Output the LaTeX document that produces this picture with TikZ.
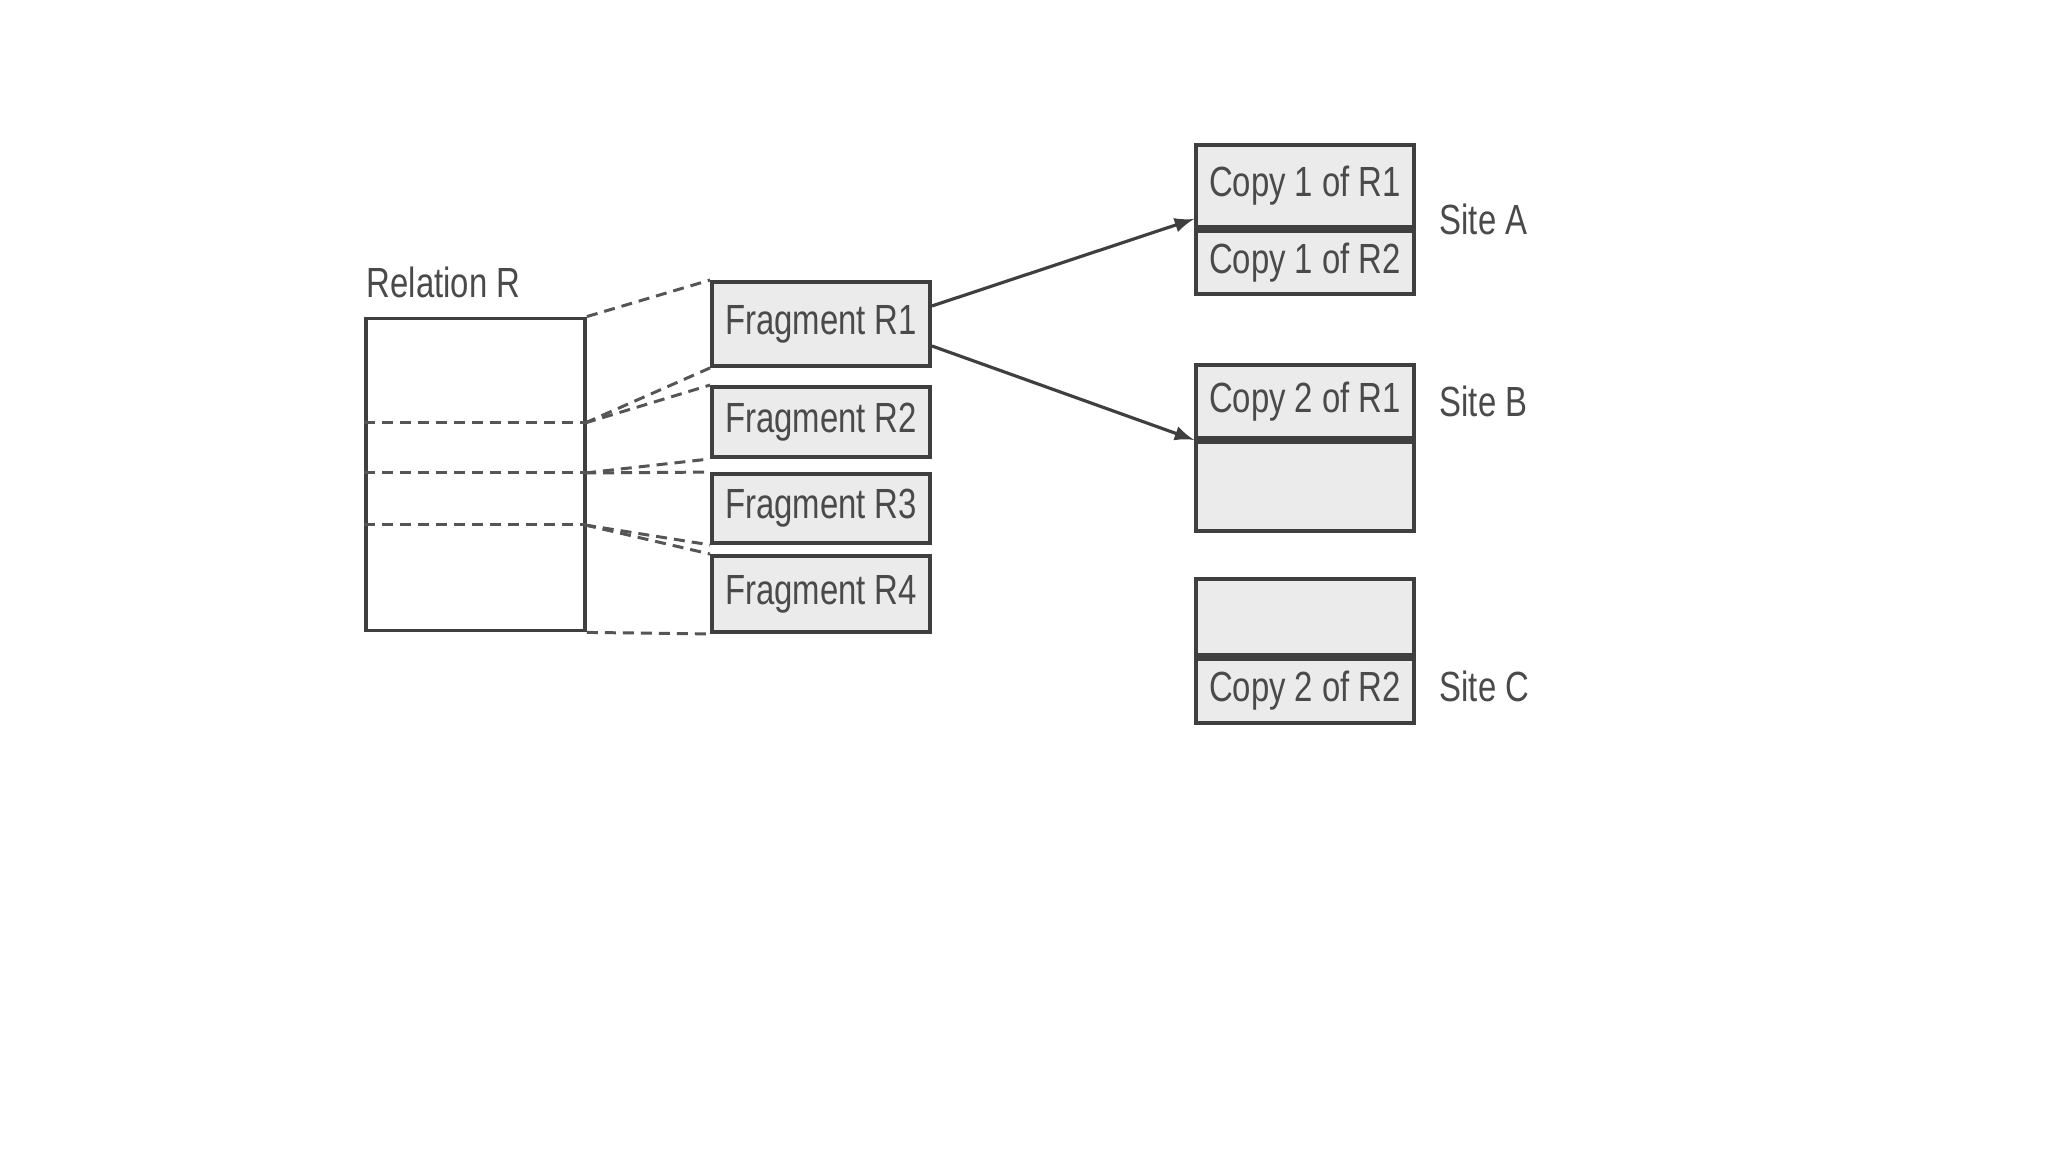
\documentclass[tikz,border=0pt]{standalone}
\usepackage{fontspec}
\setmainfont{Liberation Sans}[FakeStretch=0.78]
\usetikzlibrary{positioning}
\definecolor{boxgray}{HTML}{EBEBEB}
\definecolor{linegray}{HTML}{3F3F3F}
\definecolor{textgray}{HTML}{4A4A4A}
\definecolor{dashgray}{HTML}{555555}

\begin{document}
\begin{tikzpicture}[
    x=0.1mm, y=-0.1mm,
    every node/.style={font=\fontsize{12}{14}\selectfont, text=textgray},
    relbox/.style={draw=linegray, line width=1.1pt, fill=white, minimum width=21.9mm, minimum height=31.2mm, inner sep=0pt},
    frag/.style={draw=linegray, line width=1.1pt, fill=boxgray, minimum width=21.8mm, inner sep=0pt},
    copybox/.style={frag},
    sitelbl/.style={inner sep=0pt, anchor=west},
    part/.style={dash pattern=on 1.1mm off 0.7mm, draw=dashgray, line width=0.85pt},
    copyarrow/.style={draw=linegray, -latex, line width=0.9pt}
]
\useasboundingbox (0,0) rectangle (2048,1152);
\fill[white] (0,0) rectangle (2048,1152);

% relation and its horizontal fragments
\node[relbox] (rel) at (475.5,474.5) {};
\node[anchor=base west, inner sep=0pt] (relname) at (366,298) {Relation R};
\coordinate (split1) at (585,423);
\coordinate (split2) at (585,473);
\coordinate (split3) at (585,525);
\foreach \s in {split1,split2,split3}
    \draw[part] (rel.west |- \s) -- (\s);

\node[frag, minimum height=8.4mm] (frag1) at (821,324) {Fragment R1};
\node[frag, minimum height=7.0mm] (frag2) at (821,422) {Fragment R2};
\node[frag, minimum height=6.9mm] (frag3) at (821,508.5) {Fragment R3};
\node[frag, minimum height=7.6mm] (frag4) at (821,594) {Fragment R4};

\draw[part] (rel.north east) -- (frag1.north west);
\draw[part] (split1) -- (frag1.south west);
\draw[part] (split1) -- (frag2.north west);
\draw[part] (split2) -- (frag2.south west);
\draw[part] (split2) -- (frag3.north west);
\draw[part] (split3) -- (frag3.south west);
\draw[part] (split3) -- (frag4.north west);
\draw[part] (rel.south east) -- (frag4.south west);

% sites
\node[copybox, minimum height=8.2mm] (copyA1) at (1305,186) {Copy 1 of R1};
\node[copybox, minimum height=6.3mm, below=0pt of copyA1] (copyA2) {Copy 1 of R2};
\node[copybox, minimum height=7.3mm] (copyB1) at (1305,401.5) {Copy 2 of R1};
\node[copybox, minimum height=8.9mm, below=0pt of copyB1] (copyB2) {};
\node[copybox, minimum height=7.6mm] (copyC1) at (1305,617) {};
\node[copybox, minimum height=6.4mm, below=0pt of copyC1] (copyC2) {Copy 2 of R2};

\node[sitelbl, right=2.3mm of copyA1.south east, yshift=0.9mm] (siteA) {Site A};
\node[sitelbl, right=2.3mm of copyB1] (siteB) {Site B};
\node[sitelbl, right=2.3mm of copyC2, yshift=0.4mm] (siteC) {Site C};

% replication
\draw[copyarrow] ([yshift=1.8mm]frag1.east) -- ([yshift=1mm]copyA1.south west);
\draw[copyarrow] ([yshift=-2.2mm]frag1.east) -- (copyB1.south west);
\end{tikzpicture}
\end{document}
